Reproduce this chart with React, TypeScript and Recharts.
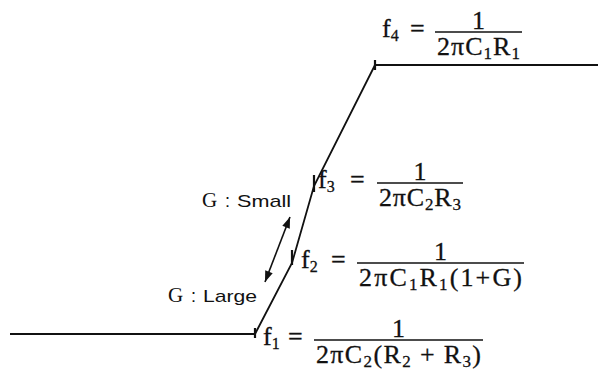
import React from "react";
import { LineChart, Line, XAxis, YAxis, ReferenceDot, ReferenceLine } from "recharts";

// log-frequency position (arbitrary units) and gain (arbitrary units) of the asymptotic response
const logFreq = [0.1, 2.55, 2.92, 3.14, 3.75, 5.98];
const gain = [0.38, 0.38, 1.09, 1.86, 3.07, 3.07];

// corner frequencies: index into the points above, subscript and denominator parts
const cornerPoint = [1, 2, 3, 4];
const cornerIndex = ["1", "2", "3", "4"];
const denominators: [string, boolean][][] = [
  [["2πC", false], ["2", true], ["(R", false], ["2", true], [" + R", false], ["3", true], [")", false]],
  [["2πC", false], ["1", true], ["R", false], ["1", true], ["(1+G)", false]],
  [["2πC", false], ["2", true], ["R", false], ["3", true]],
  [["2πC", false], ["1", true], ["R", false], ["1", true]],
];

// G direction arrow and its labels
const arrowFrom = { x: 2.65, y: 0.9 };
const arrowTo = { x: 2.9, y: 1.55 };
const gLabels = [
  { word: "Small", x: 2.02, y: 1.65 },
  { word: "Large", x: 1.68, y: 0.7 },
];

const data = logFreq.map((x, i) => ({ x, g: gain[i] }));

// label placement relative to each corner point (pixels)
const layout = [
  { dx: 8, dy: 6, eq: 25, bar: 51, w: 169 },
  { dx: 9, dy: 0, eq: 30, bar: 56, w: 167 },
  { dx: 4, dy: -3, eq: 32, bar: 59, w: 86 },
  { dx: 7, dy: -33, eq: 28, bar: 53, w: 87 },
];
const tickSpan = [
  [-6, 4],
  [-13, 2],
  [-11, 6],
  [-5, 5],
];

const INK = "#111";
const SERIF = "'Liberation Serif', 'DejaVu Serif', serif";
const SANS = "'Liberation Sans', Arial, sans-serif";

const Formula = ({ cx, cy, k }: any) => {
  if (cx == null || cy == null) return null;
  const l = layout[k];
  const fx = cx + l.dx;
  const barY = cy + l.dy;
  const barX = fx + l.bar;
  const parts = denominators[k];
  return (
    <g fontFamily={SERIF} fill={INK} stroke={INK} strokeWidth={0.3}>
      <text x={fx} y={barY + 5} fontSize={26}>
        f<tspan fontSize={16} dy={4}>{cornerIndex[k]}</tspan>
      </text>
      <text x={fx + l.eq} y={barY + 5} fontSize={26}>=</text>
      <line x1={barX} x2={barX + l.w} y1={barY} y2={barY} stroke={INK} strokeWidth={1.3} />
      <text x={barX + l.w / 2} y={barY - 3} textAnchor="middle" fontSize={26}>1</text>
      <text x={barX + 2} y={barY + 23} fontSize={26} textLength={l.w - 4} lengthAdjust="spacing">
        {parts.map(([t, sub], i) => {
          const prevSub = i > 0 && parts[i - 1][1];
          return sub ? (
            <tspan key={i} fontSize={17} dy={prevSub ? 0 : 4}>{t}</tspan>
          ) : (
            <tspan key={i} dy={prevSub ? -4 : 0}>{t}</tspan>
          );
        })}
      </text>
    </g>
  );
};

const GLabel = ({ cx, cy, word }: any) => {
  if (cx == null || cy == null) return null;
  return (
    <g fill={INK}>
      <text x={cx} y={cy} fontFamily={SERIF} fontSize={21}>G</text>
      <text x={cx + 23} y={cy} fontFamily={SANS} fontSize={18}>:</text>
      <text x={cx + 35} y={cy} fontFamily={SANS} fontSize={17} textLength={54} lengthAdjust="spacingAndGlyphs">
        {word}
      </text>
    </g>
  );
};

const Arrow = (props: any) => {
  const { x1, y1, x2, y2 } = props;
  if ([x1, y1, x2, y2].some((v) => v == null || isNaN(v))) return null;
  const ang = Math.atan2(y2 - y1, x2 - x1);
  const head = (x: number, y: number, a: number) => {
    const L = 11;
    const W = 4;
    const bx = x - L * Math.cos(a);
    const by = y - L * Math.sin(a);
    const px = -Math.sin(a) * W;
    const py = Math.cos(a) * W;
    return `${x},${y} ${bx + px},${by + py} ${bx - px},${by - py}`;
  };
  return (
    <g>
      <line x1={x1} y1={y1} x2={x2} y2={y2} stroke={INK} strokeWidth={1.6} />
      <polygon points={head(x2, y2, ang)} fill={INK} />
      <polygon points={head(x1, y1, ang + Math.PI)} fill={INK} />
    </g>
  );
};

const CornerTick = (props: any) => {
  const { cx, cy, index } = props;
  const k = cornerPoint.indexOf(index);
  if (k < 0) return <g key={index} />;
  const [a, b] = tickSpan[k];
  return <line key={index} x1={cx} x2={cx} y1={cy + a} y2={cy + b} stroke={INK} strokeWidth={2.2} />;
};

export default function App() {
  return (
    <div style={{ position: "absolute", left: 0, top: 0, width: 601, height: 372, background: "#fff" }}>
      <LineChart width={601} height={372} data={data} margin={{ top: 0, right: 0, bottom: 0, left: 0 }}>
        <XAxis type="number" dataKey="x" domain={[0, 6.01]} hide />
        <YAxis type="number" domain={[0, 3.72]} hide />
        <Line
          type="linear"
          dataKey="g"
          stroke={INK}
          strokeWidth={1.8}
          dot={CornerTick}
          activeDot={false}
          isAnimationActive={false}
        />
        <ReferenceLine
          segment={[arrowFrom, arrowTo]}
          ifOverflow="visible"
          shape={Arrow}
        />
        {cornerPoint.map((p, k) => (
          <ReferenceDot
            key={k}
            x={logFreq[p]}
            y={gain[p]}
            r={1}
            ifOverflow="visible"
            shape={(s: any) => <Formula cx={s.cx} cy={s.cy} k={k} />}
          />
        ))}
        {gLabels.map((g, i) => (
          <ReferenceDot
            key={"g" + i}
            x={g.x}
            y={g.y}
            r={1}
            ifOverflow="visible"
            shape={(s: any) => <GLabel cx={s.cx} cy={s.cy} word={g.word} />}
          />
        ))}
      </LineChart>
    </div>
  );
}
